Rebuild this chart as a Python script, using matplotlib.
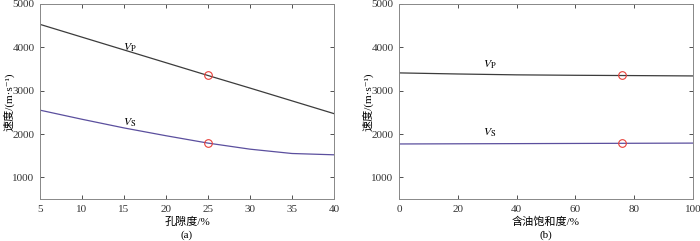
import matplotlib.pyplot as plt

plt.rcParams['font.family'] = ['Liberation Serif', 'Noto Sans CJK SC', 'DejaVu Serif']
plt.rcParams['mathtext.fontset'] = 'stix'

# porosity panel (a)
poro = [5, 10, 15, 20, 25, 30, 35, 40]
vp_poro = [4530, 4235, 3940, 3645, 3350, 3060, 2765, 2470]
vs_poro = [2550, 2340, 2140, 1960, 1790, 1650, 1550, 1520]

# oil saturation panel (b)
sat = [0, 20, 40, 60, 80, 100]
vp_sat = [3410, 3385, 3365, 3355, 3348, 3340]
vs_sat = [1770, 1774, 1778, 1782, 1786, 1790]

# marked points
mark_poro = 25
mark_sat = 76
mark_vp = 3350
mark_vs = 1790

fig = plt.figure(figsize=(7, 2.41), dpi=100)
ax1 = fig.add_axes([40 / 700, 42 / 241, 294 / 700, 195 / 241])
ax2 = fig.add_axes([399 / 700, 42 / 241, 294 / 700, 195 / 241])

vp_col = '#3c3c3c'
vs_col = '#5b4f9e'

panels = [
    (ax1, poro, vp_poro, vs_poro, mark_poro, (5, 40), range(5, 41, 5),
     '孔隙度/%', '(a)', (15.7, 4000), (15.7, 2270)),
    (ax2, sat, vp_sat, vs_sat, mark_sat, (0, 100), range(0, 101, 20),
     '含油饱和度/%', '(b)', (31, 3590), (31, 2030)),
]

for ax, x, vp, vs, mx, xlim, xt, xlab, tag, vp_pos, vs_pos in panels:
    ax.plot(x, vp, color=vp_col, lw=0.9)
    ax.plot(x, vs, color=vs_col, lw=0.9)
    ax.plot([mx, mx], [mark_vp, mark_vs], 'o', ms=5.5, mfc='none', mec='#e8403a', mew=0.8)
    ax.set_xlim(*xlim)
    ax.set_ylim(500, 5000)
    ax.set_xticks(list(xt))
    ax.set_yticks([1000, 2000, 3000, 4000, 5000])
    ax.tick_params(direction='in', length=3, width=0.6, labelsize=8,
                   colors='#333333', top=True, right=True, pad=4)
    for s in ax.spines.values():
        s.set_color('#888888')
        s.set_linewidth(0.7)
    ax.text(*vp_pos, r'$V_{\mathrm{P}}$', fontsize=8.5, ha='center', va='center')
    ax.text(*vs_pos, r'$V_{\mathrm{S}}$', fontsize=8.5, ha='center', va='center')
    ax.set_ylabel('速度/(m·s⁻¹)', fontsize=8)
    ax.yaxis.set_label_coords(-0.088, 0.5)
    ax.set_xlabel(xlab, fontsize=8, labelpad=2)
    ax.annotate(tag, xy=(0.5, 0), xycoords='axes fraction', xytext=(0, -36),
                textcoords='offset pixels', ha='center', va='center', fontsize=8)

fig.savefig('out.png', dpi=100)
